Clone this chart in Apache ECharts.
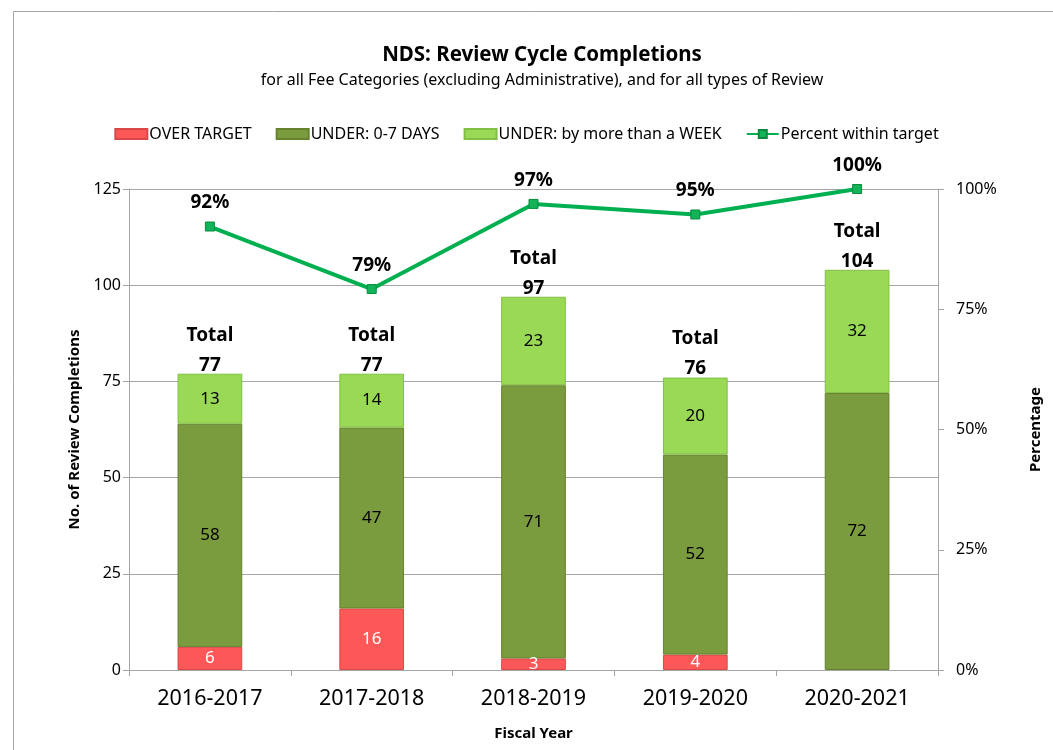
<!DOCTYPE html>
<html>
<head>
<meta charset="utf-8">
<script src="https://cdn.jsdelivr.net/npm/echarts@6/dist/echarts.min.js"></script>
<style>
html,body{margin:0;padding:0;background:#fff;}
#chart{width:1053px;height:750px;}
</style>
</head>
<body>
<div id="chart"></div>
<script>
var categories = ['2016-2017', '2017-2018', '2018-2019', '2019-2020', '2020-2021'];
var overTarget = [6, 16, 3, 4, 0];
var under07 = [58, 47, 71, 52, 72];
var underWeek = [13, 14, 23, 20, 32];
var totals = [77, 77, 97, 76, 104];
var percentWithin = [0.922, 0.792, 0.969, 0.947, 1.0];
var leftTicks = [0, 25, 50, 75, 100, 125];
var rightTicks = [0, 0.25, 0.5, 0.75, 1.0];

var FONT = 'Noto Sans';
var chart = echarts.init(document.getElementById('chart'));

function innerLabel(color) {
  return {
    show: true, position: 'inside', color: color, fontFamily: FONT, fontSize: 17,
    formatter: function (p) { return p.value ? String(p.value) : ''; }
  };
}
function nz(arr) { return arr.map(function (v) { return v === 0 ? null : v; }); }

var option = {
  backgroundColor: '#fff',
  animation: false,
  graphic: [{
    type: 'rect', left: 11, top: 9,
    shape: { width: 1100, height: 800 },
    style: { fill: 'none', stroke: '#a6a6a6', lineWidth: 1 },
    silent: true
  }],
  title: {
    text: 'NDS: Review Cycle Completions',
    subtext: 'for all Fee Categories (excluding Administrative), and for all types of Review',
    left: 537, top: 40, textAlign: 'center',
    textStyle: { fontFamily: FONT, fontSize: 20.5, fontWeight: 'bold', color: '#000' },
    subtextStyle: { fontFamily: FONT, fontSize: 16, color: '#000' },
    itemGap: 6
  },
  legend: {
    top: 121, left: 'center',
    data: [
      { name: 'OVER TARGET', icon: 'rect' },
      { name: 'UNDER: 0-7 DAYS', icon: 'rect' },
      { name: 'UNDER: by more than a WEEK', icon: 'rect' },
      { name: 'Percent within target' }
    ],
    itemWidth: 32, itemHeight: 10, itemGap: 24,
    textStyle: { fontFamily: FONT, fontSize: 16, color: '#000', padding: [0, 0, 0, -3] }
  },
  grid: { left: 129, right: 115, top: 189, bottom: 80 },
  xAxis: {
    type: 'category', data: categories,
    name: 'Fiscal Year', nameLocation: 'middle', nameGap: 56,
    nameTextStyle: { fontFamily: FONT, fontSize: 15, fontWeight: 'bold', color: '#000' },
    axisLine: { lineStyle: { color: '#a6a6a6' } },
    axisTick: { show: true, length: 6, lineStyle: { color: '#a6a6a6' } },
    axisLabel: { fontFamily: FONT, fontSize: 21.5, color: '#000', margin: 18 }
  },
  yAxis: [{
    type: 'value', min: 0, max: 125, interval: 25,
    name: 'No. of Review Completions', nameLocation: 'middle', nameGap: 47, nameRotate: 90,
    nameTextStyle: { fontFamily: FONT, fontSize: 15, fontWeight: 'bold', color: '#000' },
    axisLine: { show: true, lineStyle: { color: '#a6a6a6' } },
    axisTick: { show: true, length: 6, lineStyle: { color: '#a6a6a6' } },
    axisLabel: { fontFamily: FONT, fontSize: 16, color: '#000', margin: 8,
      formatter: function (v) { return leftTicks.indexOf(v) >= 0 ? String(v) : ''; } },
    splitLine: { show: true, lineStyle: { color: '#a6a6a6' } }
  }, {
    type: 'value', min: 0, max: 1, interval: 0.25, position: 'right',
    name: 'Percentage', nameLocation: 'middle', nameGap: 90, nameRotate: 90,
    nameTextStyle: { fontFamily: FONT, fontSize: 15, fontWeight: 'bold', color: '#000' },
    axisLine: { show: true, lineStyle: { color: '#a6a6a6' } },
    axisTick: { show: true, length: 6, inside: false, lineStyle: { color: '#a6a6a6' } },
    axisLabel: { fontFamily: FONT, fontSize: 16, color: '#000', margin: 18,
      formatter: function (v) { return rightTicks.indexOf(v) >= 0 ? Math.round(v * 100) + '%' : ''; } },
    splitLine: { show: false }
  }],
  series: [{
    name: 'OVER TARGET', type: 'bar', stack: 'a', data: nz(overTarget), barWidth: '40%',
    itemStyle: { color: '#fd5858', borderColor: '#d84848', borderWidth: 1 },
    label: innerLabel('#fff')
  }, {
    name: 'UNDER: 0-7 DAYS', type: 'bar', stack: 'a', data: nz(under07),
    itemStyle: { color: '#7b9b3f', borderColor: '#66822f', borderWidth: 1 },
    label: innerLabel('#000')
  }, {
    name: 'UNDER: by more than a WEEK', type: 'bar', stack: 'a', data: nz(underWeek),
    itemStyle: { color: '#9ad955', borderColor: '#82bf45', borderWidth: 1 },
    label: innerLabel('#000')
  }, {
    name: 'Totals', type: 'line', data: totals, yAxisIndex: 0,
    symbol: 'circle', symbolSize: 1,
    lineStyle: { opacity: 0 }, itemStyle: { color: 'rgba(0,0,0,0)' },
    label: {
      show: true, position: 'top', distance: -7,
      fontFamily: FONT, fontSize: 19, fontWeight: 'bold', color: '#000', lineHeight: 30,
      formatter: function (p) { return 'Total\n' + totals[p.dataIndex]; }
    },
    z: 5
  }, {
    name: 'Percent within target', type: 'line', yAxisIndex: 1, data: percentWithin,
    symbol: 'rect', symbolSize: 9,
    lineStyle: { color: '#00b050', width: 4 },
    itemStyle: { color: '#13b35a', borderColor: '#0a8a3e', borderWidth: 1 },
    label: {
      show: true, position: 'top', distance: 9,
      fontFamily: FONT, fontSize: 19, fontWeight: 'bold', color: '#000',
      formatter: function (p) { return Math.round(p.value * 100) + '%'; }
    },
    z: 6
  }]
};
chart.setOption(option);
</script>
</body>
</html>
